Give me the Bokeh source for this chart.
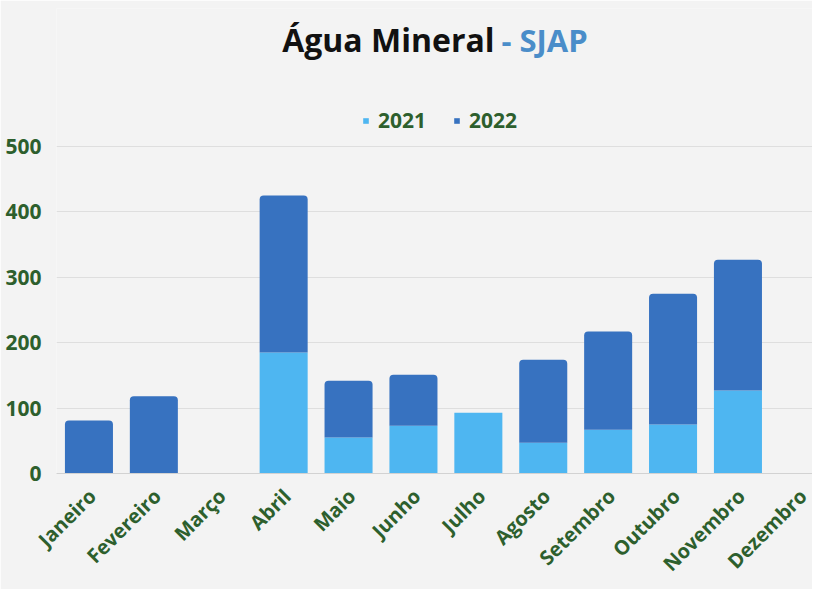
import math
from bokeh.plotting import figure
from bokeh.models import (ColumnDataSource, Range1d, FixedTicker, Label, Legend)
from bokeh.embed import file_html
from bokeh.resources import INLINE

# ---- data ----
months = ["Janeiro", "Fevereiro", "Março", "Abril", "Maio", "Junho",
          "Julho", "Agosto", "Setembro", "Outubro", "Novembro", "Dezembro"]
y2021 = [0, 0, 0, 185, 55, 73, 93, 47, 67, 75, 127, 0]
y2022 = [81, 118, 0, 240, 87, 78, 0, 127, 150, 200, 200, 0]
years = ["2021", "2022"]
y_ticks = [0, 100, 200, 300, 400, 500]

# ---- style ----
BG = "#f3f3f3"
GREEN = "#2d5f2d"
C2021 = "#4eb6f1"
C2022 = "#3772c0"
TITLE_BLUE = "#4a8dc9"
FONT = "Open Sans"

x_idx = list(range(len(months)))
source = ColumnDataSource(dict(x=x_idx, y2021=y2021, y2022=y2022))

W, H = 812, 589
left, right, top, bottom = 56, 0, 8, 116
frame_w = W - left - right
frame_h = H - top - bottom
step = 64.9              # px per category
ppu = 327.0 / 500.0      # px per value unit
x_end = -0.5 + frame_w / step
y_end = frame_h / ppu    # frame extends above 500 to hold title/legend

p = figure(width=W, height=H, output_backend="svg", toolbar_location=None,
           x_range=Range1d(-0.5, x_end), y_range=Range1d(0, y_end),
           min_border_left=left, min_border_right=right,
           min_border_top=top, min_border_bottom=bottom)
p.background_fill_color = BG
p.border_fill_color = BG
p.outline_line_color = None

r = p.vbar_stack(["y2021", "y2022"], x="x", width=0.74, source=source,
                 color=[C2021, C2022], line_color=None)
r[1].glyph.border_radius = (4, 4, 0, 0)

# axes (label ticks nudged slightly right so rotated text ends past bar centre)
label_ticks = [i + 0.05 for i in x_idx]
p.xaxis.ticker = FixedTicker(ticks=label_ticks)
p.xaxis.major_label_overrides = {t: m for t, m in zip(label_ticks, months)}
p.xaxis.major_label_orientation = math.pi / 4
p.xaxis.major_label_text_font = FONT
p.xaxis.major_label_text_font_style = "bold"
p.xaxis.major_label_text_font_size = "20px"
p.xaxis.major_label_text_color = GREEN
p.xaxis.axis_line_color = "#d2d2d2"
p.xaxis.major_tick_line_color = None
p.xaxis.minor_tick_line_color = None
p.xaxis.major_label_standoff = 13

p.yaxis.ticker = FixedTicker(ticks=y_ticks)
p.yaxis.major_label_text_font = FONT
p.yaxis.major_label_text_font_style = "bold"
p.yaxis.major_label_text_font_size = "21px"
p.yaxis.major_label_text_color = GREEN
p.yaxis.axis_line_color = None
p.yaxis.major_tick_line_color = None
p.yaxis.minor_tick_line_color = None
p.yaxis.major_label_standoff = 9

p.xgrid.grid_line_color = None
p.ygrid.grid_line_color = "#dedede"
p.ygrid.grid_line_width = 1

# legend
legend = Legend(items=[(years[0], [r[0]]), (years[1], [r[1]])],
                orientation="horizontal", location=(306, 339))
legend.glyph_width = 7
legend.glyph_height = 7
legend.label_standoff = 9
legend.spacing = 27
legend.padding = 0
legend.margin = 0
legend.border_line_color = None
legend.background_fill_alpha = 0
legend.label_text_font = FONT
legend.label_text_font_style = "bold"
legend.label_text_font_size = "21px"
legend.label_text_color = GREEN
p.add_layout(legend, "center")

# title (two colours)
t1 = Label(x=438, y=434, x_units="screen", y_units="screen", text="Água Mineral",
           text_align="right", text_baseline="alphabetic",
           text_font=FONT, text_font_style="bold", text_font_size="32px",
           text_color="#111111")
t2 = Label(x=445, y=434, x_units="screen", y_units="screen", text="- SJAP",
           text_align="left", text_baseline="alphabetic",
           text_font=FONT, text_font_style="bold", text_font_size="31px",
           text_color=TITLE_BLUE)
p.add_layout(t1)
p.add_layout(t2)

open("out.html", "w").write(file_html(p, INLINE))
